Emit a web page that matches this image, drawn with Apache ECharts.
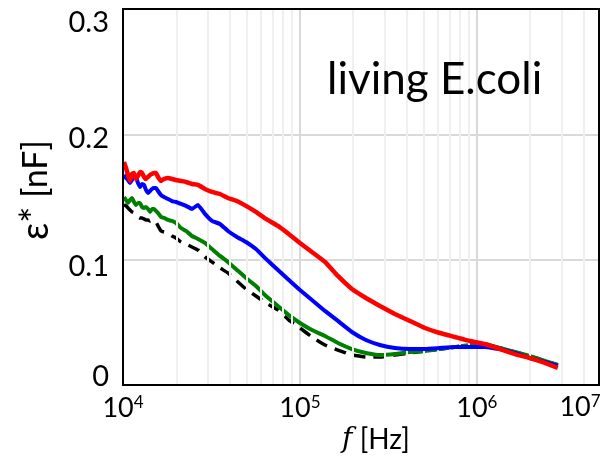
<!DOCTYPE html>
<html><head><meta charset="utf-8">
<script src="https://cdn.jsdelivr.net/npm/echarts@6/dist/echarts.min.js"></script>
<style>html,body{margin:0;padding:0;background:#fff}#c{width:601px;height:457px}</style>
</head><body><div id="c"></div><script>
// frequency grid [Hz]
const freq = [10130,10400,10670,10950,11240,11540,11840,12160,12480,12800,13140,13490,13840,14210,14580,14970,15360,15770,16390,17050,17960,18920,19930,21270,22700,24540,26530,29060,31830,35320,39190,44060,49540,56400,64270,75120,87820,100000,116900,138500,163900,196700,236000,283100,344100,418300,508400,617900,751200,913000,1110000,1349000,1639000,1993000,2422000,2868000];
// eps* [nF]
const redVals = [0.1780,0.1732,0.1676,0.1628,0.1684,0.1692,0.1644,0.1668,0.1700,0.1692,0.1660,0.1644,0.1660,0.1676,0.1684,0.1692,0.1692,0.1660,0.1628,0.1644,0.1652,0.1644,0.1636,0.1628,0.1620,0.1604,0.1596,0.1564,0.1540,0.1524,0.1492,0.1468,0.1429,0.1381,0.1325,0.1269,0.1197,0.1133,0.1061,0.0982,0.0870,0.0766,0.0694,0.0630,0.0567,0.0511,0.0455,0.0415,0.0383,0.0351,0.0327,0.0287,0.0247,0.0215,0.0176,0.0136];
const blueVals = [0.1676,0.1652,0.1636,0.1612,0.1636,0.1660,0.1652,0.1612,0.1580,0.1604,0.1596,0.1556,0.1532,0.1548,0.1564,0.1572,0.1572,0.1548,0.1516,0.1500,0.1484,0.1468,0.1460,0.1445,0.1429,0.1405,0.1437,0.1365,0.1309,0.1285,0.1229,0.1181,0.1141,0.1085,0.1006,0.0918,0.0830,0.0758,0.0678,0.0591,0.0511,0.0423,0.0359,0.0319,0.0295,0.0287,0.0287,0.0295,0.0303,0.0303,0.0303,0.0287,0.0255,0.0215,0.0184,0.0152];
const greenVals = [0.1500,0.1476,0.1453,0.1476,0.1492,0.1460,0.1437,0.1453,0.1453,0.1421,0.1413,0.1421,0.1405,0.1381,0.1405,0.1405,0.1389,0.1373,0.1341,0.1333,0.1317,0.1309,0.1293,0.1253,0.1229,0.1189,0.1165,0.1133,0.1085,0.1030,0.0982,0.0918,0.0854,0.0790,0.0710,0.0630,0.0551,0.0495,0.0439,0.0391,0.0335,0.0287,0.0255,0.0239,0.0247,0.0263,0.0271,0.0287,0.0303,0.0319,0.0327,0.0295,0.0263,0.0231,0.0192,0.0160];
const blackVals = [0.1437,0.1429,0.1413,0.1397,0.1381,0.1373,0.1357,0.1341,0.1333,0.1333,0.1325,0.1317,0.1317,0.1309,0.1317,0.1309,0.1301,0.1269,0.1229,0.1221,0.1213,0.1189,0.1173,0.1141,0.1125,0.1101,0.1077,0.1022,0.0982,0.0934,0.0894,0.0830,0.0766,0.0710,0.0654,0.0599,0.0511,0.0455,0.0383,0.0319,0.0279,0.0239,0.0223,0.0223,0.0239,0.0255,0.0271,0.0287,0.0303,0.0319,0.0327,0.0295,0.0263,0.0231,0.0192,0.0160];
// axis ticks
const xDecadeExps = [4,5,6,7];
const minorFreqs = [20000,30000,40000,50000,60000,70000,80000,90000,200000,300000,400000,500000,600000,700000,800000,900000,2000000,3000000,4000000];
const yTicks = [0,0.1,0.2,0.3];

const FONT = "Lato, 'Noto Sans', 'DejaVu Sans', sans-serif";
const chart = echarts.init(document.getElementById('c'), null, {renderer:'canvas'});
const pairs = v => freq.map((f,i)=>[f, v[i]]);
const lineSeries = (name, vals, color, width, type, z) => ({
  name, type:'line', data:pairs(vals), showSymbol:false, symbol:'none', z,
  lineStyle:{color, width, type, cap:'butt', join:'round'}, smooth:0.1, silent:true, animation:false
});
const yLab = {fontSize:29, fontFamily:FONT, color:'#000'};
const option = {
  animation:false,
  backgroundColor:'#fff',
  grid:{left:123, right:2, top:9, bottom:72, show:true, borderColor:'#000', borderWidth:2, backgroundColor:'transparent', z:10},
  xAxis:{
    type:'log', logBase:10, min:10000, max:4900000,
    axisLine:{show:true, lineStyle:{color:'#000', width:2}},
    axisTick:{show:false},
    splitLine:{show:true, showMinLine:false, showMaxLine:false, lineStyle:{color:'#d9d9d9', width:2}},
    axisLabel:{
      margin:9, color:'#000', fontFamily:FONT, showMaxLabel:false,
      formatter: v => { const l = Math.log10(v), e = Math.round(l);
        return (Math.abs(l-e)<1e-6 && xDecadeExps.includes(e)) ? '{a|10}{b|'+e+'}' : ''; },
      rich:{a:{fontSize:27, fontFamily:FONT, color:'#000', lineHeight:28},
            b:{fontSize:17, fontFamily:FONT, color:'#000', verticalAlign:'top', lineHeight:28, padding:[0,0,12,0]}}
    }
  },
  yAxis:{
    type:'value', min:0, max:0.3, interval:0.1,
    axisLine:{show:true, lineStyle:{color:'#000', width:2}},
    axisTick:{show:false},
    splitLine:{show:true, showMinLine:false, showMaxLine:false, lineStyle:{color:'#d9d9d9', width:2}},
    axisLabel:{margin:14, color:'#000', fontSize:29, fontFamily:FONT,
      formatter: v => { const r = +v.toFixed(1); if (!yTicks.includes(r)) return '';
        const t = r===0 ? '0' : r.toFixed(1); return '{l'+yTicks.indexOf(r)+'|'+t+'}'; },
      rich:{
        l0:Object.assign({padding:[0,0,16,0]}, yLab),
        l1:Object.assign({padding:[14,0,0,0]}, yLab),
        l2:Object.assign({padding:[8,0,0,0]}, yLab),
        l3:Object.assign({padding:[28,0,0,0]}, yLab)
      }}
  },
  graphic:[
    {type:'text', style:{x:327, y:80, text:'living E.coli', fontSize:44, fontFamily:FONT, fill:'#000', textVerticalAlign:'middle', textAlign:'left'}, z:20},
    {type:'text', x:36, y:190, rotation:Math.PI/2, style:{x:0, y:0, text:'{e|ε}{s|*} [nF]', fontSize:34, fontFamily:FONT, fill:'#000', textAlign:'center', textVerticalAlign:'middle',
      rich:{e:{fontSize:38, fontFamily:FONT}, s:{fontSize:38, fontFamily:FONT}}}, z:20},
    {type:'text', style:{x:376, y:440, text:'{i|f} [Hz]', fontSize:28, fontFamily:FONT, fill:'#000', textAlign:'center', textVerticalAlign:'middle',
      rich:{i:{fontStyle:'italic', fontSize:28, fontFamily:"'DejaVu Serif', serif"}}}, z:20},
    {type:'text', style:{x:580, y:407, text:'{a|10}{b|7}', textAlign:'center', textVerticalAlign:'middle',
      rich:{a:{fontSize:27, fontFamily:FONT, fill:'#000', lineHeight:28},
            b:{fontSize:17, fontFamily:FONT, fill:'#000', verticalAlign:'top', lineHeight:28, padding:[0,0,12,0]}}}, z:20}
  ],
  series:[
    {type:'line', data:[], silent:true, z:1,
     markLine:{silent:true, symbol:['none','none'], label:{show:false}, animation:false,
       lineStyle:{color:'#efefef', width:2, type:'solid'},
       data:minorFreqs.map(f=>({xAxis:f}))}},
    lineSeries('control', blackVals, '#000', 3.5, [12,8], 3),
    lineSeries('green', greenVals, '#008000', 4, 'solid', 4),
    lineSeries('blue', blueVals, '#0000ff', 4, 'solid', 5),
    lineSeries('red', redVals, '#ff0000', 4.5, 'solid', 6)
  ]
};
chart.setOption(option);
</script></body></html>
